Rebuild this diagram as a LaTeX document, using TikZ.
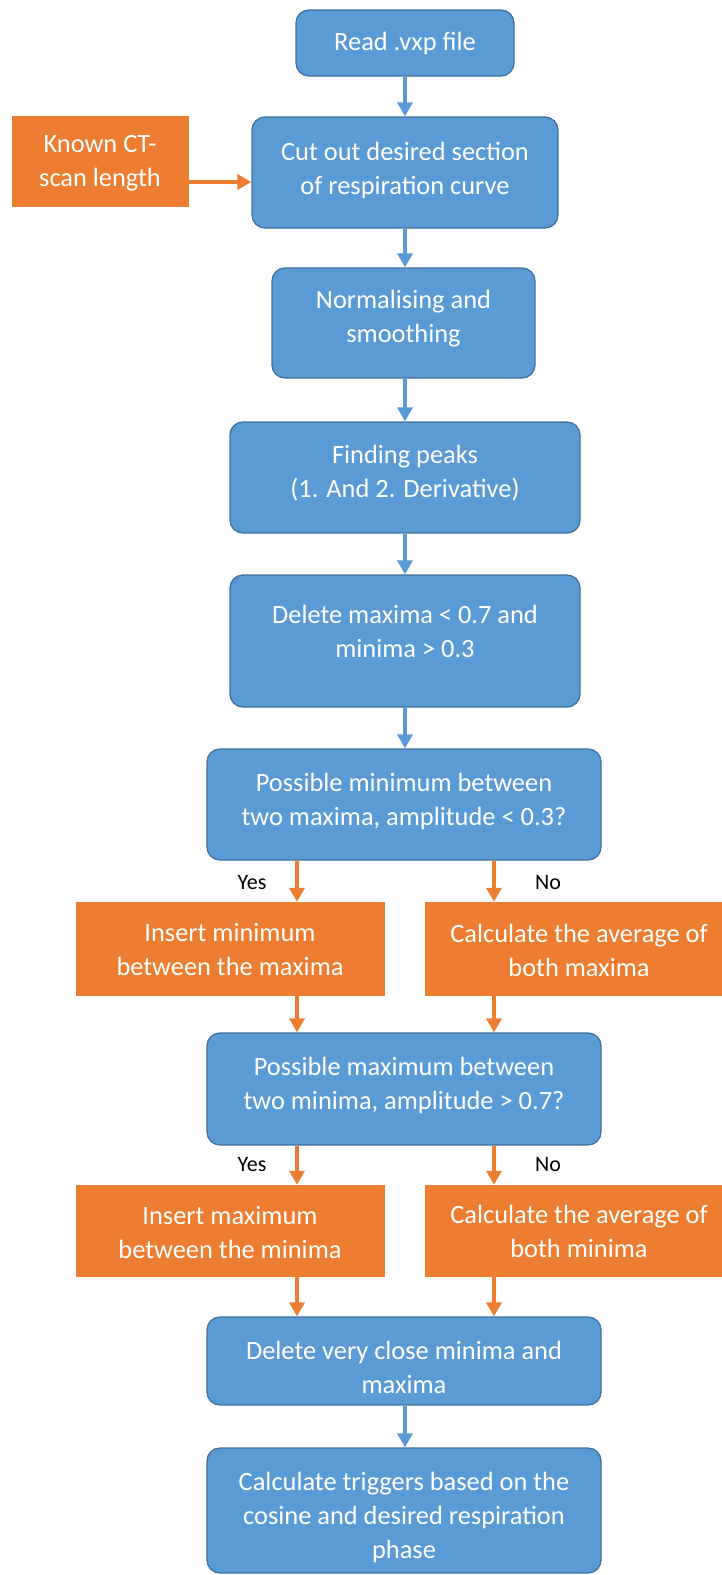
\documentclass[tikz,border=0pt]{standalone}
\usepackage{fontspec}
\setmainfont{Carlito}
\usetikzlibrary{arrows.meta,calc}
\definecolor{bfill}{HTML}{5B9BD5}
\definecolor{bdraw}{HTML}{41719C}
\definecolor{ofill}{HTML}{ED7D31}
\tikzset{
 bbox/.style={draw=bdraw, fill=bfill, line width=1.3pt, rounded corners=13pt, inner sep=0pt},
 obox/.style={fill=ofill, draw=ofill, line width=0.5pt, inner sep=0pt},
 txt/.style={text=white, align=center, font=\fontsize{26.4}{34}\selectfont, inner sep=0pt},
 lbl/.style={text=black, font=\fontsize{22}{26}\selectfont, inner sep=0pt},
 barr/.style={draw=bfill, line width=4pt, -{Triangle[width=15pt,length=14pt]}},
 oarr/.style={draw=ofill, line width=4pt, -{Triangle[width=15pt,length=14pt]}},
}
\begin{document}
\begin{tikzpicture}[x=1pt,y=-1pt]
\useasboundingbox (0,0) rectangle (722,1575);
\clip (0,0) rectangle (722,1575);
% column coordinates
\coordinate (mid) at (405,0);
\coordinate (cyes) at (297,0);
\coordinate (cno) at (494,0);
\coordinate (ky) at (0,182);
% blue boxes
\node[bbox, minimum width=218pt, minimum height=66pt] (read) at (405,43) {};
\node[bbox, minimum width=306pt, minimum height=111pt] (cut) at (405,172.5) {};
\node[bbox, minimum width=263pt, minimum height=110pt] (norm) at (403.5,323) {};
\node[bbox, minimum width=350pt, minimum height=111pt] (find) at (405,477.5) {};
\node[bbox, minimum width=350pt, minimum height=132pt] (delmax) at (405,641) {};
\node[bbox, minimum width=394pt, minimum height=111pt] (posmin) at (404,804.5) {};
\node[bbox, minimum width=394pt, minimum height=112pt] (posmax) at (404,1089) {};
\node[bbox, minimum width=394pt, minimum height=88pt] (delclose) at (404,1361) {};
\node[bbox, minimum width=394pt, minimum height=125pt] (trig) at (404,1510.5) {};
% orange boxes
\node[obox, minimum width=176pt, minimum height=90pt] (known) at (100,161) {};
\node[obox, minimum width=308pt, minimum height=93pt] (insmin) at (230,948.5) {};
\node[obox, minimum width=308pt, minimum height=93pt] (avgmax) at (579,948.5) {};
\node[obox, minimum width=308pt, minimum height=91pt] (insmax) at (230,1230.5) {};
\node[obox, minimum width=308pt, minimum height=91pt] (avgmin) at (579,1230.5) {};
% texts
\node[txt] (t-read) at (405,43) {Read .vxp file};
\node[txt] (t-cut) at (405,170) {Cut out desired section\\of respiration curve};
\node[txt] (t-norm) at (403.5,319) {Normalising and\\smoothing};
\node[txt] (t-find) at (405,473) {Finding peaks\\(1. And 2. Derivative)};
\node[txt] (t-delmax) at (405,631) {Delete maxima < 0.7 and\\minima > 0.3};
\node[txt] (t-posmin) at (404,801) {Possible minimum between\\two maxima, amplitude < 0.3?};
\node[txt] (t-posmax) at (404,1085.5) {Possible maximum between\\two minima, amplitude > 0.7?};
\node[txt] (t-delclose) at (404,1367) {Delete very close minima and\\maxima};
\node[txt] (t-trig) at (404,1517) {Calculate triggers based on the\\cosine and desired respiration\\phase};
\node[txt] (t-known) at (100,163) {Known CT-\\scan length};
\node[txt] (t-insmin) at (230,950) {Insert minimum\\between the maxima};
\node[txt] (t-avgmax) at (579,950) {Calculate the average of\\both maxima};
\node[txt] (t-insmax) at (230,1232) {Insert maximum\\between the minima};
\node[txt] (t-avgmin) at (579,1231) {Calculate the average of\\both minima};
% labels
\node[lbl] (yes1) at (252,883) {Yes};
\node[lbl] (no1) at (548,883) {No};
\node[lbl] (yes2) at (252,1165) {Yes};
\node[lbl] (no2) at (548,1165) {No};
% blue arrows
\draw[barr] (read.south -| mid) -- (cut.north -| mid);
\draw[barr] (cut.south -| mid) -- (norm.north -| mid);
\draw[barr] (norm.south -| mid) -- (find.north -| mid);
\draw[barr] (find.south -| mid) -- (delmax.north -| mid);
\draw[barr] (delmax.south -| mid) -- (posmin.north -| mid);
\draw[barr] (delclose.south -| mid) -- (trig.north -| mid);
% orange arrows
\draw[oarr] (known.east |- ky) -- (cut.west |- ky);
\draw[oarr] (posmin.south -| cyes) -- (insmin.north -| cyes);
\draw[oarr] (posmin.south -| cno) -- (avgmax.north -| cno);
\draw[oarr] (insmin.south -| cyes) -- (posmax.north -| cyes);
\draw[oarr] (avgmax.south -| cno) -- (posmax.north -| cno);
\draw[oarr] (posmax.south -| cyes) -- (insmax.north -| cyes);
\draw[oarr] (posmax.south -| cno) -- (avgmin.north -| cno);
\draw[oarr] (insmax.south -| cyes) -- (delclose.north -| cyes);
\draw[oarr] (avgmin.south -| cno) -- (delclose.north -| cno);
\end{tikzpicture}
\end{document}
